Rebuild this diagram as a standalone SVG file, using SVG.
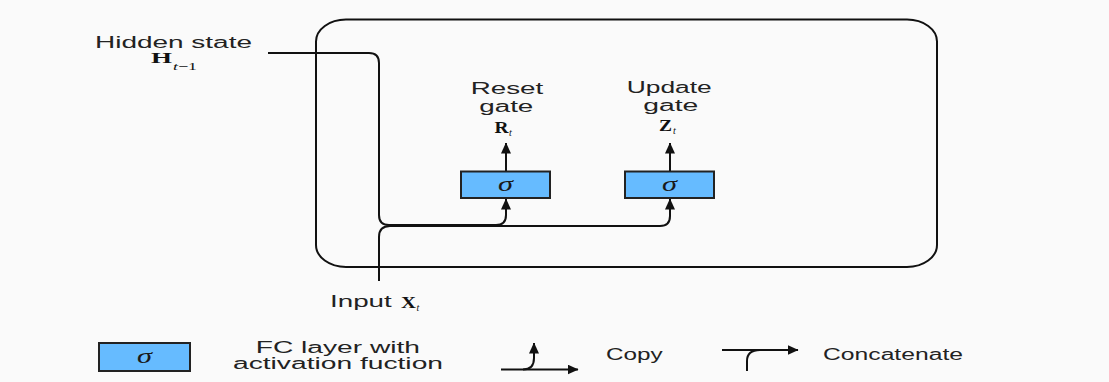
<svg xmlns="http://www.w3.org/2000/svg" width="1109" height="382" viewBox="0 0 1109 382">
<style>
.ln{fill:none;stroke:#111;stroke-width:2;}
.arr{marker-end:url(#ah);}
.box{fill:#66bbff;stroke:#222;stroke-width:2;}
.t{font-family:"Liberation Sans",Arial,sans-serif;font-size:16px;fill:#222;}
.m{font-family:"Liberation Serif","Times New Roman",serif;font-weight:bold;fill:#111;}
.s{font-family:"Liberation Serif","Times New Roman",serif;font-style:italic;fill:#111;}
.sig{font-family:"Liberation Serif","Times New Roman",serif;font-style:italic;font-size:22px;fill:#1a1a1a;}
</style>
<defs>
<marker id="ah" markerUnits="userSpaceOnUse" markerWidth="11" markerHeight="10" viewBox="0 0 11 10" refX="10.5" refY="5" orient="auto">
<path d="M0,0 L11,5 L0,10 z" fill="#111"/>
</marker>
</defs>
<rect x="0" y="0" width="1109" height="382" fill="#fafafa"/>
<g id="cell">
<rect x="316" y="19.5" width="621" height="247.5" rx="30" ry="22" fill="none" stroke="#111" stroke-width="2"/>
</g>
<g id="connectors">
<path class="ln arr" d="M268,53 H369 Q379,53 379,63 V215 Q379,225 389,225 H496 Q506,225 506,215 V199"/>
<path class="ln arr" d="M379,281 V237 Q379,226 390,226 H660 Q670,226 670,216 V199"/>
<path class="ln arr" d="M506,171 V143"/>
<path class="ln arr" d="M670,171 V143"/>
</g>
<g id="hidden-state">
<text class="t" x="95" y="47.5" textLength="157" lengthAdjust="spacingAndGlyphs">Hidden state</text>
<text class="m" x="151" y="63" font-size="15.5" textLength="21" lengthAdjust="spacingAndGlyphs">H</text>
<text class="s" x="173" y="70" font-size="11" textLength="24" lengthAdjust="spacingAndGlyphs">t<tspan font-style="normal">−1</tspan></text>
</g>
<g id="input">
<text class="t" x="330" y="307" textLength="61.7" lengthAdjust="spacingAndGlyphs">Input</text>
<text class="m" x="401" y="307.5" font-size="17" textLength="15" lengthAdjust="spacingAndGlyphs">X</text>
<text class="s" x="416.5" y="311" font-size="10">t</text>
</g>
<g id="reset-gate">
<rect class="box" x="461" y="171.5" width="89" height="26.5"/>
<text class="sig" x="505.5" y="191" text-anchor="middle" textLength="15" lengthAdjust="spacingAndGlyphs">σ</text>
<text class="t" x="470.7" y="94.3" textLength="72.6" lengthAdjust="spacingAndGlyphs">Reset</text>
<text class="t" x="479.3" y="111.5" textLength="54" lengthAdjust="spacingAndGlyphs">gate</text>
<text class="m" x="494.5" y="132.5" font-size="17" textLength="14" lengthAdjust="spacingAndGlyphs">R</text>
<text class="s" x="509" y="135.5" font-size="10">t</text>
</g>
<g id="update-gate">
<rect class="box" x="625" y="171.5" width="89" height="26.5"/>
<text class="sig" x="669.5" y="191" text-anchor="middle" textLength="15" lengthAdjust="spacingAndGlyphs">σ</text>
<text class="t" x="626.7" y="93.3" textLength="85" lengthAdjust="spacingAndGlyphs">Update</text>
<text class="t" x="643.3" y="111" textLength="55" lengthAdjust="spacingAndGlyphs">gate</text>
<text class="m" x="659" y="131" font-size="16" textLength="13" lengthAdjust="spacingAndGlyphs">Z</text>
<text class="s" x="673" y="134" font-size="10">t</text>
</g>
<g id="legend-fc">
<rect class="box" x="99" y="343" width="91" height="28"/>
<text class="sig" x="144.5" y="362.5" text-anchor="middle" textLength="15" lengthAdjust="spacingAndGlyphs">σ</text>
<text class="t" x="255.7" y="353" textLength="164.3" lengthAdjust="spacingAndGlyphs">FC layer with</text>
<text class="t" x="233" y="368.5" textLength="210" lengthAdjust="spacingAndGlyphs">activation fuction</text>
</g>
<g id="legend-copy">
<path class="ln arr" d="M501,369.5 H578"/>
<path class="ln arr" d="M523,369.5 Q534,369.5 534,358 V343"/>
<text class="t" x="606" y="360" textLength="56.7" lengthAdjust="spacingAndGlyphs">Copy</text>
</g>
<g id="legend-concat">
<path class="ln arr" d="M722,350 H798"/>
<path class="ln" d="M747,371 V361 Q747,350 760,350"/>
<text class="t" x="823" y="360" textLength="140" lengthAdjust="spacingAndGlyphs">Concatenate</text>
</g>
</svg>
